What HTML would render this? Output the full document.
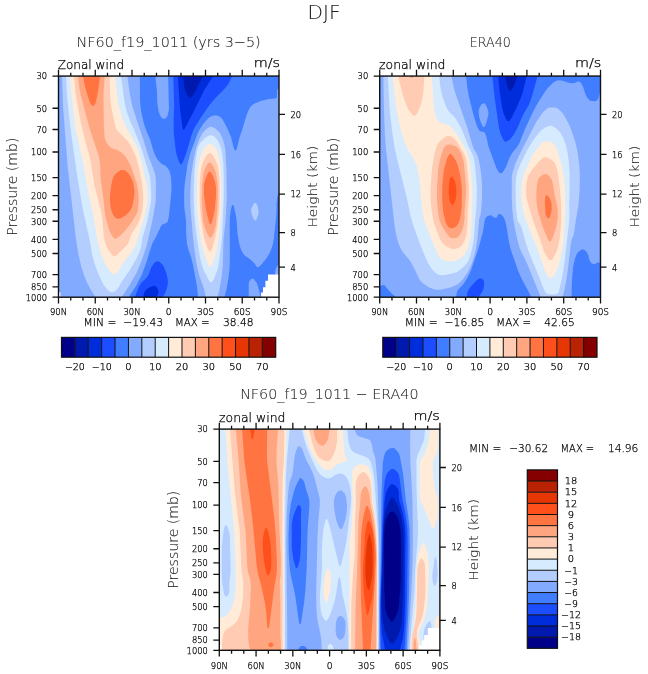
<!DOCTYPE html>
<html><head><meta charset="utf-8"><title>DJF zonal wind</title>
<style>text{stroke:#000;stroke-width:0.25px}text.big{stroke:#222;stroke-width:0.1px;fill:#222}html,body{margin:0;padding:0;background:#fff;width:648px;height:674px;overflow:hidden}</style>
</head><body>
<svg width="648" height="674" viewBox="0 0 648 674" font-family='"DejaVu Sans", "Liberation Sans", sans-serif' font-weight="200" style="display:block"><rect width="648" height="674" fill="#fff"/>
<rect x="58.5" y="76.05" width="220.50" height="221.15" fill="#000088"/>
<path fill="#0019af" stroke="none" fill-rule="evenodd" d="M58.5,76.0 279.0,76.0 279.0,297.1 58.5,297.1Z"/>
<path fill="#002ddc" stroke="none" fill-rule="evenodd" d="M58.5,76.0 183.0,76.0 184.5,87.8 185.5,91.6 187.6,95.5 189.5,97.4 190.5,97.7 192.4,96.0 196.0,90.1 202.8,76.1 279.0,76.0 279.0,297.1 58.5,297.1Z"/>
<path fill="#1c4eff" stroke="none" fill-rule="evenodd" d="M58.5,76.0 177.9,76.0 180.0,109.0 182.6,128.6 183.1,129.6 183.5,129.7 184.4,129.1 185.3,127.6 194.5,110.0 204.0,90.6 213.1,76.0 279.0,76.0 279.0,297.1 156.5,297.1 158.0,294.0 158.5,292.1 158.4,291.1 158.0,289.4 156.9,287.6 155.5,286.2 154.0,285.8 152.0,286.2 150.5,286.9 147.0,289.0 145.3,290.6 144.0,292.9 143.3,297.1 58.5,297.1Z"/>
<path fill="#417dff" stroke="none" fill-rule="evenodd" d="M58.5,76.0 173.3,76.0 174.2,106.0 173.6,119.6 173.8,133.6 175.7,150.1 176.7,155.1 179.1,162.1 180.0,163.6 181.0,164.2 181.7,164.1 182.1,163.6 183.3,161.1 186.0,153.9 191.7,134.6 193.2,130.6 195.3,126.5 202.0,115.8 209.5,105.0 215.0,98.5 224.3,89.0 227.7,85.0 229.8,81.5 232.0,76.1 279.0,76.0 279.0,297.1 162.5,297.1 164.9,293.6 166.7,289.1 167.8,284.1 167.8,279.6 166.3,273.1 163.7,266.6 162.4,264.6 160.0,262.2 158.9,261.6 157.5,261.4 155.5,261.8 153.5,264.1 151.0,267.9 148.9,274.1 147.6,276.6 145.9,278.6 141.5,282.5 139.5,285.6 134.8,297.1 58.5,297.1Z"/>
<path fill="#82aaff" stroke="none" fill-rule="evenodd" d="M58.5,76.0 139.9,76.0 140.0,99.5 140.5,106.5 141.5,113.1 143.5,122.1 146.0,130.1 149.9,139.1 154.0,152.6 156.0,157.1 157.5,159.6 160.1,162.6 162.0,164.1 164.9,165.6 166.7,167.1 168.3,169.1 169.6,171.6 170.7,175.6 171.2,179.6 171.5,186.1 171.3,193.1 169.0,215.6 167.9,221.1 167.4,222.1 166.3,223.0 162.4,224.6 161.4,225.6 160.6,227.1 156.2,236.6 152.5,243.1 149.5,252.0 149.4,253.1 149.0,253.6 146.9,261.1 141.7,275.1 136.0,286.1 128.8,297.1 58.5,297.1ZM155.3,76.0 168.1,76.0 169.0,109.5 167.5,116.0 165.6,118.5 163.5,118.7 162.7,118.5 162.0,118.0 160.3,116.0 158.7,112.0 157.3,103.0 157.0,91.5ZM277.5,89.5 279.0,88.3 279.0,194.3 278.0,195.1 278.0,195.6 277.5,196.1 277.5,197.1 277.1,197.6 277.0,200.6 276.6,202.6 276.5,212.3 276.0,218.8 275.6,221.1 275.5,224.3 275.1,226.1 275.0,229.6 274.6,230.6 274.0,237.6 273.0,243.4 271.0,249.9 269.0,254.3 266.0,259.1 260.5,265.6 258.9,267.1 258.0,267.3 257.0,267.1 256.5,266.6 254.5,263.5 250.5,259.5 244.1,255.1 241.5,250.7 239.5,245.1 237.5,233.5 236.8,222.6 235.8,215.1 233.9,206.6 233.0,205.1 232.1,205.1 230.7,210.6 229.7,219.1 229.9,259.1 229.4,270.6 228.4,278.6 226.8,288.1 224.5,297.1 198.1,297.1 197.0,286.5 193.0,265.0 191.0,257.0 188.7,250.6 187.1,244.6 186.2,234.6 186.0,220.5 184.3,207.6 184.1,201.1 184.2,191.6 184.7,184.1 187.5,164.5 190.0,154.3 197.2,134.6 199.7,129.6 203.5,123.5 208.0,118.5 210.0,117.0 212.5,115.8 215.5,115.3 218.0,115.7 220.5,117.3 222.7,119.5 228.1,130.1 231.0,137.1 234.1,149.1 234.6,150.1 235.5,150.5 236.5,149.6 237.0,148.1 239.5,137.5 241.8,131.1 246.6,115.0 249.2,109.0 250.7,106.5 252.5,104.8 255.0,103.3 261.5,100.8 268.0,99.2 271.5,98.7 275.5,98.6 276.5,98.1 277.0,97.0 277.1,90.5ZM277.0,266.6 279.0,264.8 279.0,278.3 278.0,278.0 275.6,275.6 275.1,273.6 275.1,272.1 276.0,268.6ZM251.3,279.1 252.5,278.8 254.0,279.2 256.8,283.1 258.2,287.1 260.6,297.1 248.7,297.1 248.7,283.6 249.2,281.6 250.1,280.1Z"/>
<path fill="#b4cdff" stroke="none" fill-rule="evenodd" d="M62.0,76.0 127.3,76.0 130.0,95.5 133.0,108.4 136.7,120.0 143.2,139.1 148.5,156.6 152.3,166.1 154.8,173.1 155.4,175.6 155.9,180.6 155.8,201.1 152.3,221.1 146.6,246.1 141.5,261.0 136.5,273.0 129.0,286.1 121.8,297.1 95.5,297.1 90.7,289.6 87.2,283.1 84.1,275.6 81.1,266.1 78.2,253.1 75.7,237.1 67.7,167.1 63.2,108.5ZM209.6,127.0 211.0,126.8 212.6,127.0 215.3,128.6 219.5,132.4 221.7,136.6 223.7,142.1 224.8,146.6 225.5,151.1 225.5,155.1 225.9,157.6 226.0,164.6 226.4,167.0 226.8,199.6 225.3,223.6 223.5,239.1 222.8,265.1 221.9,274.6 220.5,283.9 219.0,291.6 217.5,297.1 206.0,297.1 203.8,288.6 199.0,274.4 196.5,263.6 194.2,248.1 192.7,234.6 190.3,204.6 190.3,192.1 191.2,175.6 193.2,161.6 195.7,149.1 199.0,139.7 202.5,133.1 206.3,129.1ZM254.5,203.1 255.5,202.9 256.4,203.6 257.9,207.1 258.5,210.6 258.4,213.6 257.8,216.1 256.4,220.1 255.5,220.8 254.1,219.6 252.8,217.1 251.2,212.6 251.1,211.1 251.3,209.1 252.2,206.6 253.6,204.1Z"/>
<path fill="#d7ebff" stroke="none" fill-rule="evenodd" d="M66.1,76.0 121.0,76.0 124.6,102.5 126.5,110.7 129.5,119.5 134.0,129.6 141.4,148.1 149.8,176.1 150.4,181.1 151.3,195.1 150.8,203.6 147.2,221.6 142.5,237.6 141.1,247.1 140.5,249.5 136.5,258.4 129.5,270.5 121.8,281.6 117.9,288.6 115.3,291.0 113.5,292.1 111.5,292.2 109.5,291.4 106.4,288.6 103.4,284.6 101.0,279.8 97.2,271.1 94.3,262.6 92.6,256.6 89.5,239.6 82.7,208.6 77.7,179.1 71.2,133.6 69.3,118.0 66.8,93.5ZM208.7,135.6 211.0,135.3 212.7,135.6 214.9,137.1 217.5,140.0 220.0,145.0 221.5,150.1 222.5,156.1 223.3,163.6 223.7,174.6 223.7,199.1 222.0,237.4 221.5,242.6 219.0,262.2 217.5,269.6 213.7,279.6 212.5,281.6 212.0,282.0 211.0,282.3 210.0,282.1 209.2,281.1 204.5,272.1 202.0,265.6 200.5,259.8 198.4,248.1 195.5,227.6 194.3,213.6 193.7,200.6 193.7,189.1 194.4,172.1 195.5,161.0 197.0,151.5 198.0,147.6 199.0,145.1 200.5,142.5 205.0,138.1Z"/>
<path fill="#ffebd7" stroke="none" fill-rule="evenodd" d="M69.9,76.0 115.1,76.0 118.0,102.5 120.3,112.0 123.2,120.5 126.6,128.6 133.5,140.0 138.0,149.0 140.0,155.6 142.9,167.1 144.5,175.3 146.6,184.1 147.5,192.6 147.5,199.6 147.0,204.6 144.8,215.6 136.0,243.9 134.5,247.4 130.5,253.5 122.3,264.1 118.7,271.1 116.0,273.4 114.0,274.2 112.5,273.9 110.1,271.6 107.0,267.1 105.1,263.6 101.0,253.6 98.2,243.0 96.7,236.1 93.0,213.8 87.2,187.1 82.4,159.6 75.5,128.1 71.2,93.5ZM209.1,144.1 210.5,143.9 212.0,144.4 215.0,147.0 217.0,150.5 218.5,155.1 219.7,161.1 220.7,170.1 221.4,187.6 221.3,199.0 220.8,212.6 219.5,231.1 218.5,240.1 216.5,251.1 214.5,257.9 211.8,265.1 211.2,266.1 210.0,266.7 209.0,266.1 208.1,264.6 206.5,260.3 203.0,249.8 200.7,240.1 199.4,231.6 197.8,215.6 196.8,198.1 197.4,174.1 198.0,168.1 199.3,161.1 201.0,155.0 203.6,149.1 206.0,146.1Z"/>
<path fill="#ffcbb2" stroke="none" fill-rule="evenodd" d="M74.0,76.0 109.6,76.0 110.0,91.5 110.7,103.0 112.1,111.5 115.3,126.0 116.6,129.6 117.6,131.1 127.5,141.0 130.5,145.5 135.0,154.6 137.0,160.4 139.0,168.4 142.0,183.6 143.2,195.1 143.0,204.7 142.0,211.6 141.0,215.6 139.5,220.1 137.0,225.6 131.3,234.1 128.5,242.6 127.5,244.6 116.8,255.1 115.0,256.2 114.0,256.2 112.6,255.6 111.2,254.1 109.1,251.1 106.5,246.4 104.5,240.2 103.5,233.6 102.5,220.2 101.5,213.7 99.5,204.5 94.7,187.1 90.3,159.6 83.0,132.1 80.5,120.9 75.6,93.5ZM208.5,153.6 210.0,153.3 211.0,153.6 212.5,155.1 215.0,159.0 217.5,164.9 218.5,170.0 219.5,178.6 219.8,189.6 219.3,210.1 217.3,226.6 215.2,237.1 212.5,247.6 211.1,251.1 210.7,251.6 210.0,251.8 208.6,250.6 207.2,247.6 204.5,239.6 203.5,235.6 200.7,216.1 199.6,200.1 200.0,178.6 201.0,168.9 202.0,164.6 203.0,162.0 206.0,156.6Z"/>
<path fill="#ffa580" stroke="none" fill-rule="evenodd" d="M78.0,76.0 104.8,76.0 103.7,89.0 103.4,97.5 103.8,124.1 104.5,136.4 105.0,138.9 106.0,141.6 107.5,144.1 109.7,146.6 112.5,148.6 117.2,150.1 120.8,152.1 124.0,154.9 126.5,158.0 129.0,162.5 131.5,168.0 134.2,175.6 137.3,185.6 138.4,193.1 138.7,200.1 138.0,208.8 137.5,211.6 136.5,214.6 130.0,224.6 126.0,229.6 120.8,235.1 116.5,238.4 115.5,238.7 114.0,238.3 113.2,237.6 110.5,232.9 109.0,229.2 105.5,217.1 104.6,211.1 103.8,202.1 101.0,181.4 100.5,175.6 100.2,165.6 99.4,158.6 98.3,154.6 89.5,128.0 81.0,96.4 79.5,89.0ZM209.2,162.6 210.4,162.6 211.9,164.1 213.5,166.8 215.5,171.5 217.0,178.7 217.9,190.6 217.5,205.9 216.0,224.6 214.5,230.6 213.0,234.6 211.6,237.1 210.5,237.8 209.2,237.1 207.4,234.1 204.5,227.1 203.5,223.1 202.5,214.8 201.8,200.1 202.0,186.6 203.3,174.6 204.5,170.1 206.0,166.8 207.6,164.1Z"/>
<path fill="#ff7440" stroke="none" fill-rule="evenodd" d="M82.9,76.0 100.0,76.0 98.5,88.6 97.0,97.1 95.4,103.5 94.0,105.5 93.0,105.8 91.9,105.5 90.7,104.0 89.5,101.5 85.5,88.6ZM120.9,170.1 123.9,170.1 125.8,171.1 128.5,173.5 130.5,176.5 132.5,180.5 133.5,183.5 134.5,191.6 134.0,197.6 133.0,203.1 132.0,207.1 130.9,209.6 128.5,212.8 125.4,215.6 121.0,218.3 118.5,218.8 116.6,218.6 115.2,217.6 113.6,215.6 112.0,212.4 110.5,206.7 110.0,202.2 110.0,195.5 111.0,186.8 112.0,181.5 113.0,178.0 114.0,176.0 115.5,174.0 118.5,171.4ZM209.0,172.1 210.0,171.8 210.6,172.1 211.4,173.1 213.0,176.1 215.0,181.5 216.0,187.6 216.0,196.6 214.5,211.7 212.2,221.1 211.4,223.6 210.5,224.3 209.7,224.1 209.3,223.1 207.0,214.6 205.5,206.6 204.0,194.6 204.0,184.6 204.5,181.9 206.5,176.1 208.1,173.1Z"/>
<path fill="#fff" d="M268.0,274.6 280.0,274.6 280.0,298.0 261.1,298.0 261.1,292.5 263.0,292.5 263.0,287.2 265.4,287.2 265.4,280.8 268.0,280.8Z"/>
<path fill="#fff" d="M58.0,292.3 60.4,292.3 60.4,298.0 58.0,298.0Z"/>
<rect x="379.7" y="76.05" width="220.80" height="221.15" fill="#000088"/>
<path fill="#0019af" stroke="none" fill-rule="evenodd" d="M379.7,76.0 600.2,76.0 600.2,297.1 379.7,297.1Z"/>
<path fill="#002ddc" stroke="none" fill-rule="evenodd" d="M379.7,76.0 505.1,76.0 506.6,83.5 507.9,87.5 508.9,90.0 510.2,91.1 511.6,90.0 514.1,85.5 517.4,76.0 600.2,76.0 600.2,297.1 379.7,297.1Z"/>
<path fill="#1c4eff" stroke="none" fill-rule="evenodd" d="M379.7,76.0 498.1,76.0 499.7,91.5 502.2,108.1 503.7,113.7 505.5,118.0 507.4,121.0 508.2,121.3 509.2,121.0 509.7,120.6 511.5,118.0 516.2,108.6 521.2,97.1 522.7,92.5 526.7,76.0 600.2,76.0 600.2,297.1 379.7,297.1Z"/>
<path fill="#417dff" stroke="none" fill-rule="evenodd" d="M379.7,76.0 492.3,76.0 494.9,99.5 498.9,127.6 500.5,133.6 502.4,138.1 503.8,140.6 504.7,141.4 505.7,141.8 507.2,141.3 509.9,139.6 513.7,134.7 518.2,126.6 519.9,122.0 523.5,114.0 528.6,105.5 532.2,95.5 537.6,76.0 600.2,76.0 600.2,297.1 478.6,297.1 482.4,291.6 483.6,288.6 484.1,285.6 484.1,282.6 483.6,280.6 481.7,278.6 480.2,278.4 478.7,278.7 476.7,280.3 472.2,284.9 469.7,288.1 467.2,292.6 467.0,297.1 379.7,297.1Z"/>
<path fill="#82aaff" stroke="none" fill-rule="evenodd" d="M379.7,76.0 466.1,76.0 467.2,86.8 468.7,95.6 473.0,113.1 475.9,123.0 477.4,127.0 479.3,130.6 481.0,131.6 484.1,132.1 485.3,133.6 486.7,138.1 488.2,145.2 489.2,148.4 496.4,168.1 498.3,171.6 499.7,173.1 500.7,173.3 502.0,173.1 503.9,170.6 505.7,167.5 509.0,159.1 511.0,155.1 512.8,152.1 516.7,147.6 519.2,143.6 525.0,129.1 532.7,112.6 537.2,104.0 545.7,90.5 548.7,86.9 552.8,83.0 556.2,80.7 559.2,80.3 562.7,80.7 569.2,82.9 572.2,83.3 574.7,83.0 577.7,81.6 579.7,81.7 581.1,83.0 583.2,87.2 585.8,95.0 586.8,97.1 589.2,99.9 591.2,101.0 595.2,101.2 596.9,100.5 597.4,100.1 598.7,97.6 599.3,94.5 599.7,94.1 599.8,92.0 600.2,91.6 600.2,263.5 599.0,262.6 598.2,262.3 597.3,262.6 595.1,264.1 594.2,264.3 591.7,263.4 589.8,261.1 588.1,255.1 587.0,252.6 585.2,250.6 583.7,249.7 582.2,249.3 580.7,249.9 578.3,252.1 576.7,254.3 575.2,257.9 573.2,266.5 572.2,277.2 571.7,287.0 571.6,297.1 531.3,297.1 521.3,278.1 518.4,271.6 510.4,248.6 508.9,241.6 506.7,227.6 505.2,221.0 503.2,216.6 501.1,214.6 499.7,213.9 498.8,214.1 498.3,214.6 496.9,217.6 495.7,217.8 494.0,217.6 491.6,215.6 490.2,215.3 487.8,216.1 485.8,217.6 484.7,220.5 483.1,231.1 479.6,244.6 479.2,245.0 478.6,248.1 477.7,250.1 477.7,251.1 475.2,257.8 475.2,258.6 474.7,259.0 474.7,260.1 474.2,260.5 474.2,261.6 473.7,262.0 473.6,263.1 473.2,263.5 473.1,264.6 472.7,265.0 472.6,266.1 472.2,266.5 471.2,270.1 470.7,270.5 470.1,272.6 467.6,277.6 464.5,282.6 462.6,285.1 457.9,290.1 457.3,291.1 456.8,292.6 456.2,297.1 395.4,297.1 389.2,291.1 384.2,285.1 382.7,284.9 379.7,286.3ZM481.9,104.0 483.7,103.3 484.7,103.5 485.6,104.5 487.5,108.6 488.5,113.0 488.1,116.1 486.0,123.6 485.0,126.1 484.2,127.0 483.7,127.0 482.5,126.1 480.7,122.0 479.2,116.9 478.7,113.0 478.7,110.5 479.4,108.0 480.8,105.5Z"/>
<path fill="#b4cdff" stroke="none" fill-rule="evenodd" d="M383.3,76.0 451.3,76.0 453.7,87.1 455.4,93.5 467.5,128.1 472.2,144.6 473.7,148.6 476.6,153.6 478.1,157.1 480.0,165.6 481.5,177.6 482.1,185.6 482.1,197.5 481.0,211.6 480.6,214.6 479.2,219.1 477.6,238.1 475.7,249.4 474.2,256.1 471.7,264.0 469.2,269.6 466.7,274.1 463.2,279.1 458.2,284.0 454.4,286.1 450.4,287.6 441.1,289.6 438.2,289.7 434.7,289.5 431.2,288.3 428.2,286.9 422.7,283.3 419.5,279.6 414.7,269.2 410.2,261.1 404.0,253.6 401.5,250.1 399.3,245.6 397.9,241.6 395.9,234.0 394.4,224.6 385.9,148.6 384.9,134.1 384.0,111.5ZM549.2,107.6 555.6,107.5 557.2,108.2 558.7,109.3 561.6,112.1 563.6,114.5 567.8,122.0 571.5,130.6 576.0,144.6 578.0,154.6 579.5,167.6 579.9,177.6 579.6,190.1 578.5,205.1 575.7,221.0 574.1,233.1 573.5,235.6 571.7,239.5 570.7,244.6 567.9,269.6 566.4,280.1 563.9,292.6 562.4,297.1 540.6,297.1 527.7,265.1 524.7,258.4 521.4,252.1 519.5,247.6 517.5,240.6 514.9,228.6 513.4,219.6 512.3,209.6 511.8,198.6 511.8,178.0 512.3,173.6 515.4,163.6 519.5,154.6 536.2,122.0 541.7,114.0 544.2,111.0 547.1,108.5Z"/>
<path fill="#d7ebff" stroke="none" fill-rule="evenodd" d="M387.8,76.0 439.2,76.0 440.2,85.8 441.2,92.0 442.7,97.6 445.2,104.5 447.1,108.5 448.9,111.5 455.2,118.1 459.7,125.2 462.2,130.6 468.1,145.6 472.1,153.6 473.5,157.1 474.2,160.1 475.0,165.6 476.6,183.1 477.0,192.1 476.3,208.1 475.2,219.1 474.1,236.1 473.3,242.6 470.7,254.8 468.2,261.1 466.2,264.1 461.2,269.1 457.7,271.6 454.3,273.1 445.2,274.9 442.2,275.3 440.3,275.1 438.2,274.4 435.8,273.1 432.2,269.6 428.2,263.6 425.9,258.6 420.4,245.1 413.5,226.1 410.4,215.6 406.7,197.4 396.7,157.3 394.2,145.2 391.7,128.1 389.7,109.3ZM548.7,126.1 550.2,125.8 552.7,126.2 556.4,128.6 560.2,132.5 563.2,138.1 565.7,144.5 567.5,152.6 569.0,163.6 569.6,174.1 569.7,187.6 569.2,203.1 569.5,218.1 564.2,264.6 562.2,277.0 558.7,292.1 558.2,293.1 556.8,294.1 552.7,294.8 549.2,294.3 546.8,293.6 545.7,292.6 544.7,291.1 542.2,285.6 540.0,279.1 529.2,252.9 526.2,244.3 521.5,227.6 520.3,224.6 518.2,221.8 517.2,218.6 516.2,210.1 515.7,200.5 515.6,185.6 516.2,177.1 517.7,170.8 520.7,163.6 526.7,151.2 531.7,142.6 534.8,138.1 539.2,132.6 542.3,129.6 545.7,127.2Z"/>
<path fill="#ffebd7" stroke="none" fill-rule="evenodd" d="M392.4,76.0 431.8,76.0 433.9,108.5 434.5,112.5 436.0,117.0 437.8,120.0 440.2,122.4 442.2,123.3 449.2,125.5 452.2,128.1 456.7,134.0 463.1,144.6 466.5,151.1 468.5,155.6 469.5,159.6 470.5,165.6 472.4,189.1 472.4,195.6 471.7,212.1 471.7,222.3 470.7,236.6 469.2,244.1 467.2,249.6 465.7,252.6 463.7,255.6 462.2,257.1 458.6,259.6 456.4,260.6 454.6,261.1 451.2,261.3 446.7,260.9 442.2,259.6 440.2,258.1 438.8,256.1 437.2,253.1 432.9,243.1 424.4,221.1 422.4,211.6 420.9,197.1 419.7,181.1 417.7,169.3 416.7,165.6 414.6,160.6 408.2,150.1 406.2,146.1 404.2,141.1 401.7,133.6 399.2,123.6 396.7,110.1 395.2,99.8ZM544.4,141.6 547.2,141.3 550.0,141.6 552.0,142.6 554.6,145.1 557.2,149.9 560.2,159.6 562.9,171.6 564.4,181.1 565.1,190.6 565.2,208.6 564.4,229.1 563.7,239.1 562.2,249.7 560.2,259.2 557.7,268.1 556.2,271.6 553.6,276.1 551.7,278.0 550.7,278.3 549.5,278.1 548.5,277.1 544.7,270.3 541.6,260.6 536.7,247.0 526.0,220.6 523.8,213.6 522.2,207.3 521.1,197.6 521.2,190.1 521.9,182.6 522.9,177.1 524.5,172.1 532.7,154.5 538.5,147.1 540.6,143.6 541.9,142.6Z"/>
<path fill="#ffcbb2" stroke="none" fill-rule="evenodd" d="M398.2,76.0 424.4,76.0 423.2,93.3 422.2,99.2 420.7,104.7 418.0,111.5 416.7,114.1 415.2,115.5 414.2,115.7 413.2,115.4 411.3,113.5 409.0,110.5 406.7,106.2 402.2,93.1ZM446.8,136.1 450.2,136.1 452.7,137.5 454.6,139.1 456.7,141.6 462.9,151.6 464.9,155.6 466.0,159.1 466.8,163.1 468.8,185.6 468.9,195.6 467.7,212.8 467.3,226.6 466.2,235.3 464.2,241.2 462.7,244.1 461.1,246.1 458.2,248.1 454.2,249.3 450.7,248.4 445.1,245.6 442.7,243.6 440.2,239.6 435.0,226.1 433.4,221.1 431.9,212.6 430.9,202.1 430.6,191.6 431.4,176.1 432.4,166.1 434.9,152.1 436.3,147.1 438.8,142.6 443.2,138.2ZM543.5,157.6 545.7,157.3 547.4,157.6 550.4,159.1 552.3,160.6 554.7,163.0 556.2,166.0 557.2,169.8 559.2,182.2 560.7,198.8 561.2,208.1 561.2,220.1 560.7,229.3 559.7,238.1 558.2,246.1 556.2,252.5 552.6,259.1 551.6,260.1 550.7,260.3 549.3,260.1 548.4,259.1 546.2,255.6 543.7,250.6 541.0,242.1 532.7,219.3 527.2,200.5 526.2,195.1 526.2,186.6 526.7,182.2 527.7,177.6 528.7,175.1 531.2,171.0 537.7,163.1 540.0,160.6Z"/>
<path fill="#ffa580" stroke="none" fill-rule="evenodd" d="M409.4,76.0 409.7,76.0 414.1,76.0 412.7,78.1 411.7,78.3 410.9,78.0ZM448.5,144.6 450.5,144.6 456.3,146.6 458.7,149.0 461.2,153.6 462.7,157.5 463.7,161.8 465.7,182.1 466.0,189.1 465.9,195.6 464.5,212.0 464.6,218.1 463.7,225.2 462.2,230.6 459.5,235.6 457.4,237.6 456.1,238.1 453.7,238.3 450.8,238.1 449.5,237.1 445.2,231.6 441.3,225.1 439.6,220.6 438.6,216.1 437.3,204.6 436.9,194.6 437.0,188.6 438.1,171.6 439.2,163.1 441.2,155.1 443.7,148.3 445.2,146.1 446.8,145.1ZM542.7,174.7 545.2,173.9 546.7,174.3 548.6,175.6 551.1,178.6 552.2,181.1 553.2,185.6 554.4,194.1 556.7,203.7 557.7,209.6 557.7,217.9 556.2,227.1 552.5,238.1 551.0,241.1 550.2,241.5 548.8,241.1 547.9,239.6 543.2,228.2 537.9,211.1 536.5,202.1 536.3,195.6 536.7,186.6 537.7,180.9 538.7,178.6 540.3,176.6Z"/>
<path fill="#ff7440" stroke="none" fill-rule="evenodd" d="M448.4,155.6 450.2,153.8 451.5,154.6 454.0,157.6 456.2,161.3 457.7,165.2 459.7,173.0 460.7,178.5 461.7,186.1 462.0,192.1 461.7,206.8 460.7,215.1 459.7,220.1 458.2,223.8 456.5,226.1 454.0,228.1 451.7,228.3 449.7,228.1 448.3,227.1 446.7,224.6 445.2,220.8 443.2,212.1 442.2,200.1 442.3,186.1 443.2,175.6 444.2,168.6 446.7,159.5ZM545.8,195.6 546.7,195.3 547.6,195.6 549.5,198.1 550.9,201.1 551.5,204.1 551.7,209.1 551.3,212.6 549.6,218.0 548.7,218.3 547.7,218.1 546.9,217.1 546.0,215.6 545.5,213.6 544.8,201.6 545.3,197.1Z"/>
<path fill="#ff501c" stroke="none" fill-rule="evenodd" d="M450.7,177.1 451.2,176.8 452.1,177.1 454.4,180.1 455.5,183.1 456.2,188.1 456.4,193.6 455.8,198.6 454.1,204.1 453.7,204.6 452.7,204.8 451.7,204.6 451.2,204.1 450.0,202.1 449.3,199.1 448.7,193.1 448.7,187.6 449.1,183.6 449.9,178.6Z"/>
<rect x="219.3" y="429.1" width="220.60" height="221.20" fill="#000088"/>
<path fill="#0019af" stroke="none" fill-rule="evenodd" d="M219.3,429.1 439.8,429.1 439.8,650.1 219.3,650.1ZM391.3,511.6 390.0,512.6 387.8,515.6 386.3,518.6 385.3,522.1 385.2,524.6 384.8,525.6 384.7,530.6 384.3,531.6 384.1,549.1 384.3,588.4 385.3,608.2 385.8,611.1 387.8,616.6 390.0,620.6 390.9,621.6 391.8,621.8 392.7,621.6 393.6,620.6 395.8,616.6 397.8,611.1 398.8,606.2 400.3,588.1 400.8,575.4 400.9,545.6 400.8,536.1 400.3,530.1 399.3,523.5 398.3,519.2 396.8,515.7 394.5,512.6 393.3,511.6 392.3,511.4Z"/>
<path fill="#002ddc" stroke="none" fill-rule="evenodd" d="M219.3,429.1 439.8,429.1 439.8,650.1 219.3,650.1ZM392.9,497.6 391.4,497.6 390.4,499.1 387.3,506.1 385.3,513.1 384.3,519.6 383.2,535.6 382.6,570.1 381.3,600.6 382.3,617.4 383.8,626.7 385.3,632.1 387.8,638.6 390.5,643.1 391.8,643.8 393.3,643.1 394.7,641.6 397.3,637.2 399.8,631.5 401.3,624.8 401.8,619.8 403.3,583.6 403.7,545.6 403.4,535.1 402.8,527.1 400.8,515.1 398.3,507.1 396.3,502.6 393.5,498.1Z"/>
<path fill="#1c4eff" stroke="none" fill-rule="evenodd" d="M219.3,429.1 439.8,429.1 439.8,650.1 399.9,650.1 402.8,638.6 403.8,630.1 404.3,622.5 405.0,599.6 405.1,563.1 405.5,534.6 404.9,526.1 403.6,517.6 401.9,509.6 399.3,501.1 398.9,497.1 398.8,491.0 397.8,488.5 396.4,486.6 394.3,484.9 392.3,484.1 391.3,484.3 390.3,485.1 387.8,488.6 386.3,492.1 385.3,496.1 384.3,504.6 382.9,528.1 380.8,600.1 380.8,617.7 381.8,632.3 385.1,650.1 219.3,650.1Z"/>
<path fill="#417dff" stroke="none" fill-rule="evenodd" d="M219.3,429.1 439.8,429.1 439.8,650.1 404.4,650.1 406.2,620.1 407.0,599.1 407.7,545.6 407.4,530.1 406.2,519.1 404.7,510.1 402.6,501.1 399.3,476.6 398.8,474.5 397.3,472.1 394.3,469.3 392.8,468.9 391.4,469.1 389.5,470.6 387.8,472.6 386.3,475.1 384.8,480.5 383.8,489.4 382.1,527.1 381.3,569.9 380.1,605.6 380.3,633.6 381.1,650.1 219.3,650.1ZM298.8,504.9 297.4,506.1 293.8,514.4 292.3,520.4 291.8,524.8 291.8,548.6 293.3,558.9 295.5,567.1 295.9,568.1 296.3,568.2 297.2,568.1 298.0,566.6 299.5,561.6 300.2,556.6 300.8,546.3 301.1,533.6 300.9,519.1 301.2,509.6 301.0,508.1 300.2,506.1Z"/>
<path fill="#82aaff" stroke="none" fill-rule="evenodd" d="M219.3,429.1 439.8,429.1 439.8,650.1 406.5,650.1 408.3,613.1 409.0,592.1 409.8,545.6 409.5,528.1 408.1,515.1 405.8,500.1 403.1,474.1 400.3,458.4 399.3,454.5 398.3,452.4 394.7,448.6 393.7,448.1 392.3,447.9 390.3,448.3 388.3,449.4 386.4,451.1 385.3,452.6 383.8,457.0 382.8,463.1 381.5,493.1 380.8,558.8 379.6,600.6 379.7,650.1 308.0,650.1 305.3,646.7 304.2,646.1 302.8,645.9 301.0,646.1 300.4,646.6 299.4,647.6 298.2,650.1 219.3,650.1ZM300.8,477.9 300.3,478.1 299.4,479.1 295.8,486.1 293.8,492.1 290.8,504.1 289.3,515.7 288.5,536.1 288.8,554.7 289.8,569.1 291.3,578.1 295.0,594.1 298.9,621.6 299.4,624.1 299.8,624.2 300.8,623.6 301.6,619.1 304.1,602.6 305.4,590.1 306.7,567.1 307.6,530.1 309.5,505.1 309.3,501.1 308.8,498.1 305.8,488.6 304.5,483.1 303.1,480.1Z"/>
<path fill="#b4cdff" stroke="none" fill-rule="evenodd" d="M219.3,429.1 354.3,429.1 355.2,430.6 356.3,433.8 358.2,436.1 360.7,437.1 363.8,437.8 368.3,439.3 369.6,440.1 370.5,441.1 372.1,445.1 372.9,451.1 374.9,456.6 375.5,459.6 377.6,484.6 379.2,545.1 378.9,650.1 321.8,650.1 321.3,640.6 320.8,636.1 317.6,620.6 317.0,616.1 316.4,608.1 316.1,594.1 317.5,537.1 318.5,519.1 319.8,505.1 319.8,498.6 314.7,478.6 312.8,473.1 310.3,467.6 306.0,459.6 302.2,449.1 300.7,447.1 300.2,446.6 299.3,446.4 298.1,446.6 297.4,447.6 296.0,451.1 294.8,455.8 292.6,473.1 291.7,476.6 290.3,479.4 289.3,483.7 288.3,492.0 287.3,505.2 286.8,514.6 286.3,543.6 287.2,624.6 287.2,650.1 219.3,650.1ZM341.2,490.6 338.8,490.8 337.4,492.1 335.4,495.1 334.1,499.6 333.8,504.1 334.5,511.1 336.3,520.6 338.6,526.6 339.4,528.1 340.8,529.3 341.7,529.1 342.6,527.6 345.3,519.7 346.8,511.3 347.0,505.6 346.3,499.1 345.8,496.5 344.8,493.6 342.8,491.4ZM339.8,616.0 338.2,617.1 337.4,618.1 336.6,620.1 335.9,623.6 335.6,631.1 336.0,634.6 336.9,637.1 338.8,639.6 340.3,639.8 341.6,639.6 342.2,639.1 343.6,637.6 344.4,636.1 345.3,632.0 345.6,624.1 345.3,621.0 343.7,618.1 341.6,616.1ZM410.3,429.1 439.8,429.1 439.8,650.1 408.0,650.1 411.6,585.1 412.5,562.6 412.9,540.6 412.5,501.1 410.4,462.6 410.1,447.6Z"/>
<path fill="#d7ebff" stroke="none" fill-rule="evenodd" d="M219.3,429.1 289.7,429.1 286.8,460.1 285.8,481.1 284.9,538.1 285.1,650.1 219.3,650.1ZM225.8,525.0 224.9,525.6 224.0,528.6 223.0,535.1 221.8,546.6 221.7,576.1 222.3,583.6 224.0,593.6 224.8,596.1 225.3,596.6 226.3,596.8 227.3,596.2 228.2,595.1 229.3,592.1 229.5,581.6 230.3,575.1 230.7,567.6 229.8,537.1 229.5,533.6 228.9,531.1 227.7,527.6 226.6,525.6ZM301.8,429.1 347.2,429.1 348.3,441.1 349.8,446.8 351.3,450.1 354.1,452.6 359.0,454.6 363.8,456.1 367.7,458.1 369.3,459.6 370.8,462.5 371.8,465.5 373.4,473.1 374.5,481.1 378.0,532.6 378.4,566.6 378.2,650.1 348.4,650.1 348.3,631.3 347.3,617.6 345.8,609.1 342.5,594.1 340.2,578.1 339.3,577.1 338.8,577.6 338.4,579.1 335.7,596.1 334.4,602.1 330.7,613.6 328.0,619.1 326.8,620.6 325.3,620.6 324.3,619.6 322.8,617.2 321.8,614.7 320.8,610.2 320.3,606.2 319.9,595.6 322.0,567.6 321.8,552.1 322.3,540.4 323.3,530.7 324.6,524.1 325.9,519.6 326.3,519.2 327.1,519.1 328.1,521.1 330.6,530.1 338.5,563.6 338.9,565.1 339.8,566.1 340.3,566.1 341.2,564.6 342.1,561.1 344.8,549.6 346.8,538.9 350.8,505.6 351.2,498.1 350.8,491.1 350.4,490.1 350.3,487.6 349.9,486.6 349.8,485.1 349.4,484.6 349.3,483.6 347.8,479.6 345.5,476.1 343.0,474.1 340.8,473.4 338.4,473.6 334.8,475.3 330.8,477.9 327.8,478.3 325.3,477.8 322.9,476.6 320.8,475.1 318.3,472.1 316.3,468.7 311.6,459.1 305.9,445.1 303.5,436.6ZM425.0,429.1 439.8,429.1 439.8,650.1 409.8,650.1 410.5,636.6 414.3,592.6 415.1,571.6 417.6,540.6 418.1,530.1 416.5,487.6 416.4,461.6 416.9,457.6 417.7,455.1 423.8,440.7 424.3,438.6ZM429.3,621.4 427.9,622.6 426.4,624.6 424.3,629.1 423.4,635.6 423.5,638.6 423.9,639.6 425.6,639.6 426.7,638.6 429.1,635.6 430.6,632.6 431.5,628.6 431.4,625.1 430.6,622.1 430.3,621.6ZM435.3,556.9 434.9,557.1 434.5,559.1 432.3,575.1 432.7,582.1 433.9,585.1 434.8,585.8 435.6,585.6 436.8,582.1 437.3,579.9 437.8,572.8 437.0,562.1 436.0,557.6ZM329.3,644.1 330.8,644.1 332.1,645.1 332.7,646.1 333.7,650.1 327.4,650.1 327.9,646.1Z"/>
<path fill="#ffebd7" stroke="none" fill-rule="evenodd" d="M225.5,429.1 286.7,429.1 284.5,481.1 283.8,522.1 283.7,650.1 219.3,650.1 219.3,617.4 224.3,617.1 225.1,616.6 227.3,614.5 230.8,609.1 233.3,603.6 234.3,600.3 235.2,594.6 235.6,587.6 235.8,576.1 235.7,565.6 234.1,531.6 231.3,501.1 227.5,465.1ZM303.7,429.1 342.7,429.1 344.4,452.6 345.3,456.6 346.8,459.1 346.6,460.1 345.3,461.3 343.7,462.1 336.9,464.6 330.6,470.1 328.3,470.3 325.9,470.1 323.0,468.6 320.3,466.1 316.8,461.6 314.8,458.6 312.3,453.9 308.8,445.6ZM430.2,429.1 438.8,429.1 438.4,431.1 437.8,446.6 437.3,451.1 436.3,455.1 433.5,459.6 432.9,463.1 432.9,470.6 433.5,479.6 434.5,486.6 437.3,498.6 437.8,502.0 438.0,507.6 437.8,514.8 437.3,518.0 435.1,525.6 434.2,527.6 433.3,528.3 432.3,527.8 431.4,526.6 424.0,508.1 421.3,502.7 420.3,498.7 419.8,493.6 419.7,470.1 419.8,465.1 420.3,461.8 421.3,458.9 424.6,454.6 426.1,450.6 428.6,440.6ZM358.9,464.6 361.8,464.4 364.5,464.6 366.4,465.6 368.3,467.6 370.8,473.3 372.1,481.1 372.8,498.4 373.3,503.2 376.5,525.1 377.4,539.1 377.8,558.1 377.6,650.1 349.3,650.1 349.6,548.1 349.8,541.1 352.0,519.6 352.8,504.1 352.0,473.1 352.4,470.6 354.1,467.6 356.3,465.8ZM422.5,543.6 423.8,543.1 424.7,544.1 425.6,546.1 427.6,553.6 428.5,561.1 428.9,574.1 427.2,604.1 425.7,614.1 424.1,620.1 419.3,630.1 418.3,633.6 418.8,637.2 419.8,640.1 420.7,644.6 421.2,650.1 410.6,650.1 411.1,637.6 412.9,630.6 413.3,630.1 414.8,618.1 415.8,597.6 416.2,575.6 417.3,560.5 418.3,554.6 419.3,551.1 420.8,547.0ZM327.5,569.1 328.3,569.1 329.3,570.1 330.1,572.1 330.7,575.1 330.8,582.6 330.5,587.6 329.7,592.6 327.2,601.6 326.7,602.6 326.3,602.7 325.4,602.1 325.0,601.1 323.8,595.7 323.8,585.8 324.8,576.0 325.8,572.1ZM437.1,616.6 439.8,614.4 439.8,628.4 437.3,627.9 435.6,627.1 434.9,625.6 434.7,624.1 434.9,621.1 435.5,619.1Z"/>
<path fill="#ffcbb2" stroke="none" fill-rule="evenodd" d="M230.1,429.1 284.3,429.1 283.8,461.1 283.0,473.1 282.5,485.1 282.3,538.1 282.7,571.1 282.5,650.1 221.2,650.1 222.8,637.6 223.3,634.7 224.4,631.6 226.3,629.6 232.3,625.6 235.8,622.6 237.3,620.6 239.3,616.3 240.8,611.6 241.9,606.6 242.8,599.6 243.2,593.6 243.2,581.6 241.8,572.6 241.3,566.6 239.8,531.6 235.3,496.1 232.3,460.0ZM308.7,429.1 337.2,429.1 337.0,441.6 335.8,448.2 334.8,451.6 332.8,456.2 331.2,459.1 329.2,461.1 327.3,461.3 325.6,461.1 322.3,459.6 319.3,457.6 316.8,454.6 315.3,451.6 312.3,442.8ZM361.6,472.6 363.3,472.1 365.5,473.1 368.8,477.1 370.3,480.6 371.3,488.5 371.9,501.1 375.3,521.9 376.3,531.6 377.2,558.1 377.0,650.1 351.1,650.1 351.3,603.4 352.8,577.9 354.8,553.5 355.0,520.1 355.9,501.1 355.6,489.6 355.8,482.6 356.8,479.1 357.8,477.1 359.5,474.6ZM420.9,558.6 421.3,558.4 421.8,558.6 423.1,560.1 424.4,562.6 424.9,565.1 425.4,583.6 425.3,594.1 424.8,600.6 423.3,612.2 422.3,616.8 421.3,619.8 418.4,626.1 417.0,631.6 416.9,636.1 417.6,640.1 418.6,650.1 411.6,650.1 411.8,638.1 415.1,623.6 416.2,615.6 416.7,606.1 417.3,571.1 417.8,565.6 419.3,561.1Z"/>
<path fill="#ffa580" stroke="none" fill-rule="evenodd" d="M235.8,429.1 278.0,429.1 276.6,451.1 276.4,461.1 278.3,483.4 279.0,518.6 280.8,558.6 280.8,573.1 280.0,579.6 279.8,585.1 280.3,602.1 280.4,636.6 280.8,641.0 280.9,650.1 250.5,650.1 249.0,645.1 248.2,638.1 248.2,628.6 250.1,606.1 250.9,585.1 250.5,580.6 248.3,573.1 247.3,566.6 245.6,531.6 240.8,494.6 238.7,461.6ZM313.3,429.1 329.8,429.1 328.1,439.1 326.0,443.1 323.8,445.4 322.3,445.8 320.8,445.4 319.0,444.1 316.8,441.6 315.4,439.1 314.8,437.2ZM364.4,486.6 365.3,486.4 366.1,486.6 366.4,487.1 367.8,489.6 369.3,493.7 370.4,503.6 372.3,512.1 374.3,523.7 375.8,538.2 376.4,549.6 376.6,562.1 376.0,650.1 355.1,650.1 355.6,606.1 357.3,566.6 358.5,520.1 360.2,503.6 360.7,494.1 362.1,490.1ZM414.4,638.1 414.8,637.9 415.2,638.1 415.8,641.1 416.5,650.1 413.5,650.1 413.5,643.1Z"/>
<path fill="#ff7440" stroke="none" fill-rule="evenodd" d="M242.1,429.1 267.2,429.1 266.9,451.1 267.1,461.1 274.3,518.1 275.8,536.6 276.9,561.6 276.8,570.9 276.3,575.7 274.0,589.1 269.6,623.6 268.7,628.1 268.3,628.6 267.3,627.6 266.3,613.0 264.8,601.9 261.5,586.6 258.1,574.1 256.6,565.1 253.2,527.1 251.6,513.1 249.6,497.1 245.8,472.1 244.3,460.2ZM366.3,506.1 367.6,506.1 368.2,507.1 369.8,511.0 370.8,515.0 374.1,534.6 375.3,544.7 375.8,552.6 375.8,560.6 375.0,579.1 370.5,650.1 363.0,650.1 361.0,600.6 360.5,558.1 361.3,532.8 362.8,519.6 365.5,508.1ZM269.9,642.6 271.3,642.4 272.3,642.8 273.7,644.6 273.0,646.1 271.7,647.1 270.8,647.2 269.8,646.9 268.4,645.6 268.2,644.6 268.4,644.1Z"/>
<path fill="#ff501c" stroke="none" fill-rule="evenodd" d="M250.0,429.1 254.8,429.1 253.2,438.6 252.3,439.3 251.8,439.1 251.4,437.6ZM367.8,521.1 368.3,520.7 368.8,520.7 370.3,523.1 371.8,527.5 372.8,532.0 373.8,541.1 374.4,558.1 373.8,579.2 372.3,597.7 370.8,605.1 368.0,614.6 367.3,615.1 366.8,614.6 366.5,613.1 364.3,597.2 363.3,585.2 363.0,572.6 363.1,566.6 364.3,549.6 365.0,534.6 366.3,526.1ZM265.4,528.1 266.7,528.1 268.1,531.6 269.8,538.6 270.8,546.7 271.4,560.1 271.1,568.6 270.0,573.1 269.2,574.6 268.3,575.3 267.4,575.1 266.9,574.1 265.4,568.6 263.9,560.1 263.0,551.1 262.7,545.1 263.0,538.1 264.0,532.6Z"/>
<path fill="#e63604" stroke="none" fill-rule="evenodd" d="M368.9,534.6 369.3,534.1 370.1,534.6 371.8,543.6 372.3,548.1 372.6,562.6 372.3,573.6 371.8,578.0 370.3,585.8 369.5,589.1 369.1,590.1 368.8,590.2 367.9,589.6 367.5,588.6 366.3,583.9 365.3,575.1 365.3,570.1 365.8,555.9 366.8,545.1 367.3,541.1Z"/>
<path fill="#fff" d="M427.9,628.1 441.0,628.1 441.0,651.5 418.6,651.5 418.6,645.6 421.7,645.6 421.7,640.6 424.2,640.6 424.2,635.0 427.9,635.0Z"/>
<path fill="#fff" d="M218.5,645.2 221.7,645.2 221.7,651.5 218.5,651.5Z"/>
<path d="M58.50 297.20v6.3M58.50 76.05v-6.3M70.75 297.20v3.4M70.75 76.05v-3.4M83.00 297.20v3.4M83.00 76.05v-3.4M95.25 297.20v6.3M95.25 76.05v-6.3M107.50 297.20v3.4M107.50 76.05v-3.4M119.75 297.20v3.4M119.75 76.05v-3.4M132.00 297.20v6.3M132.00 76.05v-6.3M144.25 297.20v3.4M144.25 76.05v-3.4M156.50 297.20v3.4M156.50 76.05v-3.4M168.75 297.20v6.3M168.75 76.05v-6.3M181.00 297.20v3.4M181.00 76.05v-3.4M193.25 297.20v3.4M193.25 76.05v-3.4M205.50 297.20v6.3M205.50 76.05v-6.3M217.75 297.20v3.4M217.75 76.05v-3.4M230.00 297.20v3.4M230.00 76.05v-3.4M242.25 297.20v6.3M242.25 76.05v-6.3M254.50 297.20v3.4M254.50 76.05v-3.4M266.75 297.20v3.4M266.75 76.05v-3.4M279.00 297.20v6.3M279.00 76.05v-6.3M58.50 76.05h-6M58.50 108.27h-6M58.50 129.49h-6M58.50 151.98h-6M58.50 177.55h-6M58.50 195.70h-6M58.50 209.77h-6M58.50 221.27h-6M58.50 239.41h-6M58.50 253.48h-6M58.50 274.71h-6M58.50 286.95h-6M58.50 297.20h-6M279.00 114.43h6M279.00 154.28h6M279.00 194.05h6M279.00 232.56h6M279.00 267.18h6" stroke="#111" stroke-width="1.3" fill="none"/>
<rect x="58.50" y="76.05" width="220.50" height="221.15" fill="none" stroke="#111" stroke-width="1.4"/>
<text x="47.0" y="79.3" font-size="9.2" text-anchor="end" textLength="10.6" lengthAdjust="spacingAndGlyphs" fill="#000">30</text>
<text x="47.0" y="111.6" font-size="9.2" text-anchor="end" textLength="10.6" lengthAdjust="spacingAndGlyphs" fill="#000">50</text>
<text x="47.0" y="132.8" font-size="9.2" text-anchor="end" textLength="10.6" lengthAdjust="spacingAndGlyphs" fill="#000">70</text>
<text x="47.0" y="155.3" font-size="9.2" text-anchor="end" textLength="15.9" lengthAdjust="spacingAndGlyphs" fill="#000">100</text>
<text x="47.0" y="180.9" font-size="9.2" text-anchor="end" textLength="15.9" lengthAdjust="spacingAndGlyphs" fill="#000">150</text>
<text x="47.0" y="199.0" font-size="9.2" text-anchor="end" textLength="15.9" lengthAdjust="spacingAndGlyphs" fill="#000">200</text>
<text x="47.0" y="213.1" font-size="9.2" text-anchor="end" textLength="15.9" lengthAdjust="spacingAndGlyphs" fill="#000">250</text>
<text x="47.0" y="224.6" font-size="9.2" text-anchor="end" textLength="15.9" lengthAdjust="spacingAndGlyphs" fill="#000">300</text>
<text x="47.0" y="242.7" font-size="9.2" text-anchor="end" textLength="15.9" lengthAdjust="spacingAndGlyphs" fill="#000">400</text>
<text x="47.0" y="256.8" font-size="9.2" text-anchor="end" textLength="15.9" lengthAdjust="spacingAndGlyphs" fill="#000">500</text>
<text x="47.0" y="278.0" font-size="9.2" text-anchor="end" textLength="15.9" lengthAdjust="spacingAndGlyphs" fill="#000">700</text>
<text x="47.0" y="290.3" font-size="9.2" text-anchor="end" textLength="15.9" lengthAdjust="spacingAndGlyphs" fill="#000">850</text>
<text x="47.0" y="300.5" font-size="9.2" text-anchor="end" textLength="21.2" lengthAdjust="spacingAndGlyphs" fill="#000">1000</text>
<text x="290.5" y="117.7" font-size="9.2" textLength="10.6" lengthAdjust="spacingAndGlyphs" fill="#000">20</text>
<text x="290.5" y="157.6" font-size="9.2" textLength="10.6" lengthAdjust="spacingAndGlyphs" fill="#000">16</text>
<text x="290.5" y="197.3" font-size="9.2" textLength="10.6" lengthAdjust="spacingAndGlyphs" fill="#000">12</text>
<text x="290.5" y="235.9" font-size="9.2" textLength="5.3" lengthAdjust="spacingAndGlyphs" fill="#000">8</text>
<text x="290.5" y="270.5" font-size="9.2" textLength="5.3" lengthAdjust="spacingAndGlyphs" fill="#000">4</text>
<text x="58.5" y="315.4" font-size="9.2" text-anchor="middle" textLength="17.1" lengthAdjust="spacingAndGlyphs" fill="#000">90N</text>
<text x="95.2" y="315.4" font-size="9.2" text-anchor="middle" textLength="17.1" lengthAdjust="spacingAndGlyphs" fill="#000">60N</text>
<text x="132.0" y="315.4" font-size="9.2" text-anchor="middle" textLength="17.1" lengthAdjust="spacingAndGlyphs" fill="#000">30N</text>
<text x="168.8" y="315.4" font-size="9.2" text-anchor="middle" fill="#000">0</text>
<text x="205.5" y="315.4" font-size="9.2" text-anchor="middle" textLength="17.1" lengthAdjust="spacingAndGlyphs" fill="#000">30S</text>
<text x="242.2" y="315.4" font-size="9.2" text-anchor="middle" textLength="17.1" lengthAdjust="spacingAndGlyphs" fill="#000">60S</text>
<text x="279.0" y="315.4" font-size="9.2" text-anchor="middle" textLength="17.1" lengthAdjust="spacingAndGlyphs" fill="#000">90S</text>
<text x="17.1" y="186.6" font-size="13.8" text-anchor="middle" textLength="98.1" lengthAdjust="spacingAndGlyphs" transform="rotate(-90 17.1 186.6)" class="big" fill="#000">Pressure (mb)</text>
<text x="317.1" y="186.6" font-size="12.2" text-anchor="middle" textLength="81.9" lengthAdjust="spacingAndGlyphs" transform="rotate(-90 317.1 186.6)" class="big" fill="#000">Height (km)</text>
<path d="M379.70 297.20v6.3M379.70 76.05v-6.3M391.97 297.20v3.4M391.97 76.05v-3.4M404.23 297.20v3.4M404.23 76.05v-3.4M416.50 297.20v6.3M416.50 76.05v-6.3M428.77 297.20v3.4M428.77 76.05v-3.4M441.03 297.20v3.4M441.03 76.05v-3.4M453.30 297.20v6.3M453.30 76.05v-6.3M465.57 297.20v3.4M465.57 76.05v-3.4M477.83 297.20v3.4M477.83 76.05v-3.4M490.10 297.20v6.3M490.10 76.05v-6.3M502.37 297.20v3.4M502.37 76.05v-3.4M514.63 297.20v3.4M514.63 76.05v-3.4M526.90 297.20v6.3M526.90 76.05v-6.3M539.17 297.20v3.4M539.17 76.05v-3.4M551.43 297.20v3.4M551.43 76.05v-3.4M563.70 297.20v6.3M563.70 76.05v-6.3M575.97 297.20v3.4M575.97 76.05v-3.4M588.23 297.20v3.4M588.23 76.05v-3.4M600.50 297.20v6.3M600.50 76.05v-6.3M379.70 76.05h-6M379.70 108.27h-6M379.70 129.49h-6M379.70 151.98h-6M379.70 177.55h-6M379.70 195.70h-6M379.70 209.77h-6M379.70 221.27h-6M379.70 239.41h-6M379.70 253.48h-6M379.70 274.71h-6M379.70 286.95h-6M379.70 297.20h-6M600.50 114.43h6M600.50 154.28h6M600.50 194.05h6M600.50 232.56h6M600.50 267.18h6" stroke="#111" stroke-width="1.3" fill="none"/>
<rect x="379.70" y="76.05" width="220.80" height="221.15" fill="none" stroke="#111" stroke-width="1.4"/>
<text x="368.2" y="79.3" font-size="9.2" text-anchor="end" textLength="10.6" lengthAdjust="spacingAndGlyphs" fill="#000">30</text>
<text x="368.2" y="111.6" font-size="9.2" text-anchor="end" textLength="10.6" lengthAdjust="spacingAndGlyphs" fill="#000">50</text>
<text x="368.2" y="132.8" font-size="9.2" text-anchor="end" textLength="10.6" lengthAdjust="spacingAndGlyphs" fill="#000">70</text>
<text x="368.2" y="155.3" font-size="9.2" text-anchor="end" textLength="15.9" lengthAdjust="spacingAndGlyphs" fill="#000">100</text>
<text x="368.2" y="180.9" font-size="9.2" text-anchor="end" textLength="15.9" lengthAdjust="spacingAndGlyphs" fill="#000">150</text>
<text x="368.2" y="199.0" font-size="9.2" text-anchor="end" textLength="15.9" lengthAdjust="spacingAndGlyphs" fill="#000">200</text>
<text x="368.2" y="213.1" font-size="9.2" text-anchor="end" textLength="15.9" lengthAdjust="spacingAndGlyphs" fill="#000">250</text>
<text x="368.2" y="224.6" font-size="9.2" text-anchor="end" textLength="15.9" lengthAdjust="spacingAndGlyphs" fill="#000">300</text>
<text x="368.2" y="242.7" font-size="9.2" text-anchor="end" textLength="15.9" lengthAdjust="spacingAndGlyphs" fill="#000">400</text>
<text x="368.2" y="256.8" font-size="9.2" text-anchor="end" textLength="15.9" lengthAdjust="spacingAndGlyphs" fill="#000">500</text>
<text x="368.2" y="278.0" font-size="9.2" text-anchor="end" textLength="15.9" lengthAdjust="spacingAndGlyphs" fill="#000">700</text>
<text x="368.2" y="290.3" font-size="9.2" text-anchor="end" textLength="15.9" lengthAdjust="spacingAndGlyphs" fill="#000">850</text>
<text x="368.2" y="300.5" font-size="9.2" text-anchor="end" textLength="21.2" lengthAdjust="spacingAndGlyphs" fill="#000">1000</text>
<text x="612.0" y="117.7" font-size="9.2" textLength="10.6" lengthAdjust="spacingAndGlyphs" fill="#000">20</text>
<text x="612.0" y="157.6" font-size="9.2" textLength="10.6" lengthAdjust="spacingAndGlyphs" fill="#000">16</text>
<text x="612.0" y="197.3" font-size="9.2" textLength="10.6" lengthAdjust="spacingAndGlyphs" fill="#000">12</text>
<text x="612.0" y="235.9" font-size="9.2" textLength="5.3" lengthAdjust="spacingAndGlyphs" fill="#000">8</text>
<text x="612.0" y="270.5" font-size="9.2" textLength="5.3" lengthAdjust="spacingAndGlyphs" fill="#000">4</text>
<text x="379.7" y="315.4" font-size="9.2" text-anchor="middle" textLength="17.1" lengthAdjust="spacingAndGlyphs" fill="#000">90N</text>
<text x="416.5" y="315.4" font-size="9.2" text-anchor="middle" textLength="17.1" lengthAdjust="spacingAndGlyphs" fill="#000">60N</text>
<text x="453.3" y="315.4" font-size="9.2" text-anchor="middle" textLength="17.1" lengthAdjust="spacingAndGlyphs" fill="#000">30N</text>
<text x="490.1" y="315.4" font-size="9.2" text-anchor="middle" fill="#000">0</text>
<text x="526.9" y="315.4" font-size="9.2" text-anchor="middle" textLength="17.1" lengthAdjust="spacingAndGlyphs" fill="#000">30S</text>
<text x="563.7" y="315.4" font-size="9.2" text-anchor="middle" textLength="17.1" lengthAdjust="spacingAndGlyphs" fill="#000">60S</text>
<text x="600.5" y="315.4" font-size="9.2" text-anchor="middle" textLength="17.1" lengthAdjust="spacingAndGlyphs" fill="#000">90S</text>
<text x="338.3" y="186.6" font-size="13.8" text-anchor="middle" textLength="98.1" lengthAdjust="spacingAndGlyphs" transform="rotate(-90 338.3 186.6)" class="big" fill="#000">Pressure (mb)</text>
<text x="638.6" y="186.6" font-size="12.2" text-anchor="middle" textLength="81.9" lengthAdjust="spacingAndGlyphs" transform="rotate(-90 638.6 186.6)" class="big" fill="#000">Height (km)</text>
<path d="M219.30 650.30v6.3M219.30 429.10v-6.3M231.56 650.30v3.4M231.56 429.10v-3.4M243.81 650.30v3.4M243.81 429.10v-3.4M256.07 650.30v6.3M256.07 429.10v-6.3M268.32 650.30v3.4M268.32 429.10v-3.4M280.58 650.30v3.4M280.58 429.10v-3.4M292.83 650.30v6.3M292.83 429.10v-6.3M305.09 650.30v3.4M305.09 429.10v-3.4M317.34 650.30v3.4M317.34 429.10v-3.4M329.60 650.30v6.3M329.60 429.10v-6.3M341.86 650.30v3.4M341.86 429.10v-3.4M354.11 650.30v3.4M354.11 429.10v-3.4M366.37 650.30v6.3M366.37 429.10v-6.3M378.62 650.30v3.4M378.62 429.10v-3.4M390.88 650.30v3.4M390.88 429.10v-3.4M403.13 650.30v6.3M403.13 429.10v-6.3M415.39 650.30v3.4M415.39 429.10v-3.4M427.64 650.30v3.4M427.64 429.10v-3.4M439.90 650.30v6.3M439.90 429.10v-6.3M219.30 429.10h-6M219.30 461.32h-6M219.30 482.55h-6M219.30 505.05h-6M219.30 530.63h-6M219.30 548.77h-6M219.30 562.85h-6M219.30 574.35h-6M219.30 592.50h-6M219.30 606.58h-6M219.30 627.80h-6M219.30 640.05h-6M219.30 650.30h-6M439.90 467.49h6M439.90 507.35h6M439.90 547.12h6M439.90 585.65h6M439.90 620.28h6" stroke="#111" stroke-width="1.3" fill="none"/>
<rect x="219.30" y="429.10" width="220.60" height="221.20" fill="none" stroke="#111" stroke-width="1.4"/>
<text x="207.8" y="432.4" font-size="9.2" text-anchor="end" textLength="10.6" lengthAdjust="spacingAndGlyphs" fill="#000">30</text>
<text x="207.8" y="464.6" font-size="9.2" text-anchor="end" textLength="10.6" lengthAdjust="spacingAndGlyphs" fill="#000">50</text>
<text x="207.8" y="485.8" font-size="9.2" text-anchor="end" textLength="10.6" lengthAdjust="spacingAndGlyphs" fill="#000">70</text>
<text x="207.8" y="508.3" font-size="9.2" text-anchor="end" textLength="15.9" lengthAdjust="spacingAndGlyphs" fill="#000">100</text>
<text x="207.8" y="533.9" font-size="9.2" text-anchor="end" textLength="15.9" lengthAdjust="spacingAndGlyphs" fill="#000">150</text>
<text x="207.8" y="552.1" font-size="9.2" text-anchor="end" textLength="15.9" lengthAdjust="spacingAndGlyphs" fill="#000">200</text>
<text x="207.8" y="566.2" font-size="9.2" text-anchor="end" textLength="15.9" lengthAdjust="spacingAndGlyphs" fill="#000">250</text>
<text x="207.8" y="577.7" font-size="9.2" text-anchor="end" textLength="15.9" lengthAdjust="spacingAndGlyphs" fill="#000">300</text>
<text x="207.8" y="595.8" font-size="9.2" text-anchor="end" textLength="15.9" lengthAdjust="spacingAndGlyphs" fill="#000">400</text>
<text x="207.8" y="609.9" font-size="9.2" text-anchor="end" textLength="15.9" lengthAdjust="spacingAndGlyphs" fill="#000">500</text>
<text x="207.8" y="631.1" font-size="9.2" text-anchor="end" textLength="15.9" lengthAdjust="spacingAndGlyphs" fill="#000">700</text>
<text x="207.8" y="643.3" font-size="9.2" text-anchor="end" textLength="15.9" lengthAdjust="spacingAndGlyphs" fill="#000">850</text>
<text x="207.8" y="653.6" font-size="9.2" text-anchor="end" textLength="21.2" lengthAdjust="spacingAndGlyphs" fill="#000">1000</text>
<text x="451.4" y="470.8" font-size="9.2" textLength="10.6" lengthAdjust="spacingAndGlyphs" fill="#000">20</text>
<text x="451.4" y="510.7" font-size="9.2" textLength="10.6" lengthAdjust="spacingAndGlyphs" fill="#000">16</text>
<text x="451.4" y="550.4" font-size="9.2" textLength="10.6" lengthAdjust="spacingAndGlyphs" fill="#000">12</text>
<text x="451.4" y="588.9" font-size="9.2" textLength="5.3" lengthAdjust="spacingAndGlyphs" fill="#000">8</text>
<text x="451.4" y="623.6" font-size="9.2" textLength="5.3" lengthAdjust="spacingAndGlyphs" fill="#000">4</text>
<text x="219.3" y="668.5" font-size="9.2" text-anchor="middle" textLength="17.1" lengthAdjust="spacingAndGlyphs" fill="#000">90N</text>
<text x="256.1" y="668.5" font-size="9.2" text-anchor="middle" textLength="17.1" lengthAdjust="spacingAndGlyphs" fill="#000">60N</text>
<text x="292.8" y="668.5" font-size="9.2" text-anchor="middle" textLength="17.1" lengthAdjust="spacingAndGlyphs" fill="#000">30N</text>
<text x="329.6" y="668.5" font-size="9.2" text-anchor="middle" fill="#000">0</text>
<text x="366.4" y="668.5" font-size="9.2" text-anchor="middle" textLength="17.1" lengthAdjust="spacingAndGlyphs" fill="#000">30S</text>
<text x="403.1" y="668.5" font-size="9.2" text-anchor="middle" textLength="17.1" lengthAdjust="spacingAndGlyphs" fill="#000">60S</text>
<text x="439.9" y="668.5" font-size="9.2" text-anchor="middle" textLength="17.1" lengthAdjust="spacingAndGlyphs" fill="#000">90S</text>
<text x="177.9" y="539.7" font-size="13.8" text-anchor="middle" textLength="98.1" lengthAdjust="spacingAndGlyphs" transform="rotate(-90 177.9 539.7)" class="big" fill="#000">Pressure (mb)</text>
<text x="478.0" y="539.7" font-size="12.2" text-anchor="middle" textLength="81.9" lengthAdjust="spacingAndGlyphs" transform="rotate(-90 478.0 539.7)" class="big" fill="#000">Height (km)</text>
<text x="307.5" y="19.4" font-size="19.5" textLength="33.0" lengthAdjust="spacingAndGlyphs" class="big" fill="#000">DJF</text>
<text x="76.5" y="46.7" font-size="14" textLength="184.2" lengthAdjust="spacingAndGlyphs" class="big" fill="#000">NF60_f19_1011 (yrs 3−5)</text>
<text x="469.8" y="46.9" font-size="14" textLength="41.1" lengthAdjust="spacingAndGlyphs" class="big" fill="#000">ERA40</text>
<text x="240.2" y="399.3" font-size="14" textLength="178.3" lengthAdjust="spacingAndGlyphs" class="big" fill="#000">NF60_f19_1011 − ERA40</text>
<text x="57.7" y="68.6" font-size="11.7" textLength="66.4" lengthAdjust="spacingAndGlyphs" fill="#000">Zonal wind</text>
<text x="253.7" y="66.6" font-size="11.7" textLength="26.4" lengthAdjust="spacingAndGlyphs" fill="#000">m/s</text>
<text x="379.0" y="68.6" font-size="11.7" textLength="66.4" lengthAdjust="spacingAndGlyphs" fill="#000">zonal wind</text>
<text x="574.9" y="66.6" font-size="11.7" textLength="26.4" lengthAdjust="spacingAndGlyphs" fill="#000">m/s</text>
<text x="219.0" y="422.0" font-size="11.7" textLength="66.4" lengthAdjust="spacingAndGlyphs" fill="#000">zonal wind</text>
<text x="413.4" y="420.0" font-size="11.7" textLength="26.4" lengthAdjust="spacingAndGlyphs" fill="#000">m/s</text>
<rect x="61.50" y="337.4" width="13.39" height="19.8" fill="#000088"/>
<rect x="74.89" y="337.4" width="13.39" height="19.8" fill="#0019af"/>
<rect x="88.28" y="337.4" width="13.39" height="19.8" fill="#002ddc"/>
<rect x="101.66" y="337.4" width="13.39" height="19.8" fill="#1c4eff"/>
<rect x="115.05" y="337.4" width="13.39" height="19.8" fill="#417dff"/>
<rect x="128.44" y="337.4" width="13.39" height="19.8" fill="#82aaff"/>
<rect x="141.82" y="337.4" width="13.39" height="19.8" fill="#b4cdff"/>
<rect x="155.21" y="337.4" width="13.39" height="19.8" fill="#d7ebff"/>
<rect x="168.60" y="337.4" width="13.39" height="19.8" fill="#ffebd7"/>
<rect x="181.99" y="337.4" width="13.39" height="19.8" fill="#ffcbb2"/>
<rect x="195.38" y="337.4" width="13.39" height="19.8" fill="#ffa580"/>
<rect x="208.76" y="337.4" width="13.39" height="19.8" fill="#ff7440"/>
<rect x="222.15" y="337.4" width="13.39" height="19.8" fill="#ff501c"/>
<rect x="235.54" y="337.4" width="13.39" height="19.8" fill="#e63604"/>
<rect x="248.92" y="337.4" width="13.39" height="19.8" fill="#b92202"/>
<rect x="262.31" y="337.4" width="13.39" height="19.8" fill="#850000"/>
<path d="M74.89 337.4v19.8M88.28 337.4v19.8M101.66 337.4v19.8M115.05 337.4v19.8M128.44 337.4v19.8M141.82 337.4v19.8M155.21 337.4v19.8M168.60 337.4v19.8M181.99 337.4v19.8M195.38 337.4v19.8M208.76 337.4v19.8M222.15 337.4v19.8M235.54 337.4v19.8M248.92 337.4v19.8M262.31 337.4v19.8" stroke="#111" stroke-width="1"/>
<rect x="61.50" y="337.4" width="214.2" height="19.8" fill="none" stroke="#111" stroke-width="1.2"/>
<text x="74.9" y="369.9" font-size="8.9" text-anchor="middle" textLength="20.0" lengthAdjust="spacingAndGlyphs" fill="#000">−20</text>
<text x="101.7" y="369.9" font-size="8.9" text-anchor="middle" textLength="20.0" lengthAdjust="spacingAndGlyphs" fill="#000">−10</text>
<text x="128.4" y="369.9" font-size="8.9" text-anchor="middle" textLength="6.3" lengthAdjust="spacingAndGlyphs" fill="#000">0</text>
<text x="155.2" y="369.9" font-size="8.9" text-anchor="middle" textLength="12.6" lengthAdjust="spacingAndGlyphs" fill="#000">10</text>
<text x="182.0" y="369.9" font-size="8.9" text-anchor="middle" textLength="12.6" lengthAdjust="spacingAndGlyphs" fill="#000">20</text>
<text x="208.8" y="369.9" font-size="8.9" text-anchor="middle" textLength="12.6" lengthAdjust="spacingAndGlyphs" fill="#000">30</text>
<text x="235.5" y="369.9" font-size="8.9" text-anchor="middle" textLength="12.6" lengthAdjust="spacingAndGlyphs" fill="#000">50</text>
<text x="262.3" y="369.9" font-size="8.9" text-anchor="middle" textLength="12.6" lengthAdjust="spacingAndGlyphs" fill="#000">70</text>
<text x="83.5" y="326.4" font-size="10.6" textLength="32.9" lengthAdjust="spacingAndGlyphs" fill="#000">MIN =</text>
<text x="123.3" y="326.4" font-size="10.6" textLength="39.8" lengthAdjust="spacingAndGlyphs" fill="#000">−19.43</text>
<text x="175.0" y="326.4" font-size="10.6" textLength="34.7" lengthAdjust="spacingAndGlyphs" fill="#000">MAX =</text>
<text x="223.0" y="326.4" font-size="10.6" textLength="30.4" lengthAdjust="spacingAndGlyphs" fill="#000">38.48</text>
<rect x="382.80" y="337.4" width="13.39" height="19.8" fill="#000088"/>
<rect x="396.19" y="337.4" width="13.39" height="19.8" fill="#0019af"/>
<rect x="409.57" y="337.4" width="13.39" height="19.8" fill="#002ddc"/>
<rect x="422.96" y="337.4" width="13.39" height="19.8" fill="#1c4eff"/>
<rect x="436.35" y="337.4" width="13.39" height="19.8" fill="#417dff"/>
<rect x="449.74" y="337.4" width="13.39" height="19.8" fill="#82aaff"/>
<rect x="463.12" y="337.4" width="13.39" height="19.8" fill="#b4cdff"/>
<rect x="476.51" y="337.4" width="13.39" height="19.8" fill="#d7ebff"/>
<rect x="489.90" y="337.4" width="13.39" height="19.8" fill="#ffebd7"/>
<rect x="503.29" y="337.4" width="13.39" height="19.8" fill="#ffcbb2"/>
<rect x="516.67" y="337.4" width="13.39" height="19.8" fill="#ffa580"/>
<rect x="530.06" y="337.4" width="13.39" height="19.8" fill="#ff7440"/>
<rect x="543.45" y="337.4" width="13.39" height="19.8" fill="#ff501c"/>
<rect x="556.84" y="337.4" width="13.39" height="19.8" fill="#e63604"/>
<rect x="570.23" y="337.4" width="13.39" height="19.8" fill="#b92202"/>
<rect x="583.61" y="337.4" width="13.39" height="19.8" fill="#850000"/>
<path d="M396.19 337.4v19.8M409.57 337.4v19.8M422.96 337.4v19.8M436.35 337.4v19.8M449.74 337.4v19.8M463.12 337.4v19.8M476.51 337.4v19.8M489.90 337.4v19.8M503.29 337.4v19.8M516.67 337.4v19.8M530.06 337.4v19.8M543.45 337.4v19.8M556.84 337.4v19.8M570.23 337.4v19.8M583.61 337.4v19.8" stroke="#111" stroke-width="1"/>
<rect x="382.80" y="337.4" width="214.2" height="19.8" fill="none" stroke="#111" stroke-width="1.2"/>
<text x="396.2" y="369.9" font-size="8.9" text-anchor="middle" textLength="20.0" lengthAdjust="spacingAndGlyphs" fill="#000">−20</text>
<text x="423.0" y="369.9" font-size="8.9" text-anchor="middle" textLength="20.0" lengthAdjust="spacingAndGlyphs" fill="#000">−10</text>
<text x="449.7" y="369.9" font-size="8.9" text-anchor="middle" textLength="6.3" lengthAdjust="spacingAndGlyphs" fill="#000">0</text>
<text x="476.5" y="369.9" font-size="8.9" text-anchor="middle" textLength="12.6" lengthAdjust="spacingAndGlyphs" fill="#000">10</text>
<text x="503.3" y="369.9" font-size="8.9" text-anchor="middle" textLength="12.6" lengthAdjust="spacingAndGlyphs" fill="#000">20</text>
<text x="530.1" y="369.9" font-size="8.9" text-anchor="middle" textLength="12.6" lengthAdjust="spacingAndGlyphs" fill="#000">30</text>
<text x="556.8" y="369.9" font-size="8.9" text-anchor="middle" textLength="12.6" lengthAdjust="spacingAndGlyphs" fill="#000">50</text>
<text x="583.6" y="369.9" font-size="8.9" text-anchor="middle" textLength="12.6" lengthAdjust="spacingAndGlyphs" fill="#000">70</text>
<text x="404.8" y="326.4" font-size="10.6" textLength="32.9" lengthAdjust="spacingAndGlyphs" fill="#000">MIN =</text>
<text x="444.6" y="326.4" font-size="10.6" textLength="39.8" lengthAdjust="spacingAndGlyphs" fill="#000">−16.85</text>
<text x="496.3" y="326.4" font-size="10.6" textLength="34.7" lengthAdjust="spacingAndGlyphs" fill="#000">MAX =</text>
<text x="544.3" y="326.4" font-size="10.6" textLength="30.4" lengthAdjust="spacingAndGlyphs" fill="#000">42.65</text>
<rect x="527.3" y="469.90" width="30.2" height="11.15" fill="#850000"/>
<rect x="527.3" y="481.05" width="30.2" height="11.15" fill="#b92202"/>
<rect x="527.3" y="492.20" width="30.2" height="11.15" fill="#e63604"/>
<rect x="527.3" y="503.35" width="30.2" height="11.15" fill="#ff501c"/>
<rect x="527.3" y="514.50" width="30.2" height="11.15" fill="#ff7440"/>
<rect x="527.3" y="525.65" width="30.2" height="11.15" fill="#ffa580"/>
<rect x="527.3" y="536.80" width="30.2" height="11.15" fill="#ffcbb2"/>
<rect x="527.3" y="547.95" width="30.2" height="11.15" fill="#ffebd7"/>
<rect x="527.3" y="559.10" width="30.2" height="11.15" fill="#d7ebff"/>
<rect x="527.3" y="570.25" width="30.2" height="11.15" fill="#b4cdff"/>
<rect x="527.3" y="581.40" width="30.2" height="11.15" fill="#82aaff"/>
<rect x="527.3" y="592.55" width="30.2" height="11.15" fill="#417dff"/>
<rect x="527.3" y="603.70" width="30.2" height="11.15" fill="#1c4eff"/>
<rect x="527.3" y="614.85" width="30.2" height="11.15" fill="#002ddc"/>
<rect x="527.3" y="626.00" width="30.2" height="11.15" fill="#0019af"/>
<rect x="527.3" y="637.15" width="30.2" height="11.15" fill="#000088"/>
<path d="M527.3 481.05h30.2M527.3 492.20h30.2M527.3 503.35h30.2M527.3 514.50h30.2M527.3 525.65h30.2M527.3 536.80h30.2M527.3 547.95h30.2M527.3 559.10h30.2M527.3 570.25h30.2M527.3 581.40h30.2M527.3 592.55h30.2M527.3 603.70h30.2M527.3 614.85h30.2M527.3 626.00h30.2M527.3 637.15h30.2" stroke="#111" stroke-width="1"/>
<rect x="527.3" y="469.90" width="30.2" height="178.40" fill="none" stroke="#111" stroke-width="1.2"/>
<text x="571.0" y="484.2" font-size="8.9" text-anchor="middle" textLength="12.6" lengthAdjust="spacingAndGlyphs" fill="#000">18</text>
<text x="571.0" y="495.4" font-size="8.9" text-anchor="middle" textLength="12.6" lengthAdjust="spacingAndGlyphs" fill="#000">15</text>
<text x="571.0" y="506.5" font-size="8.9" text-anchor="middle" textLength="12.6" lengthAdjust="spacingAndGlyphs" fill="#000">12</text>
<text x="571.0" y="517.7" font-size="8.9" text-anchor="middle" textLength="6.3" lengthAdjust="spacingAndGlyphs" fill="#000">9</text>
<text x="571.0" y="528.9" font-size="8.9" text-anchor="middle" textLength="6.3" lengthAdjust="spacingAndGlyphs" fill="#000">6</text>
<text x="571.0" y="540.0" font-size="8.9" text-anchor="middle" textLength="6.3" lengthAdjust="spacingAndGlyphs" fill="#000">3</text>
<text x="571.0" y="551.1" font-size="8.9" text-anchor="middle" textLength="6.3" lengthAdjust="spacingAndGlyphs" fill="#000">1</text>
<text x="571.0" y="562.3" font-size="8.9" text-anchor="middle" textLength="6.3" lengthAdjust="spacingAndGlyphs" fill="#000">0</text>
<text x="571.0" y="573.5" font-size="8.9" text-anchor="middle" textLength="13.7" lengthAdjust="spacingAndGlyphs" fill="#000">−1</text>
<text x="571.0" y="584.6" font-size="8.9" text-anchor="middle" textLength="13.7" lengthAdjust="spacingAndGlyphs" fill="#000">−3</text>
<text x="571.0" y="595.8" font-size="8.9" text-anchor="middle" textLength="13.7" lengthAdjust="spacingAndGlyphs" fill="#000">−6</text>
<text x="571.0" y="606.9" font-size="8.9" text-anchor="middle" textLength="13.7" lengthAdjust="spacingAndGlyphs" fill="#000">−9</text>
<text x="571.0" y="618.0" font-size="8.9" text-anchor="middle" textLength="20.0" lengthAdjust="spacingAndGlyphs" fill="#000">−12</text>
<text x="571.0" y="629.2" font-size="8.9" text-anchor="middle" textLength="20.0" lengthAdjust="spacingAndGlyphs" fill="#000">−15</text>
<text x="571.0" y="640.4" font-size="8.9" text-anchor="middle" textLength="20.0" lengthAdjust="spacingAndGlyphs" fill="#000">−18</text>
<text x="468.9" y="452.0" font-size="11.0" textLength="32.5" lengthAdjust="spacingAndGlyphs" fill="#000">MIN =</text>
<text x="509.2" y="452.0" font-size="11.0" textLength="38.9" lengthAdjust="spacingAndGlyphs" fill="#000">−30.62</text>
<text x="560.5" y="452.0" font-size="11.0" textLength="33.7" lengthAdjust="spacingAndGlyphs" fill="#000">MAX =</text>
<text x="607.9" y="452.0" font-size="11.0" textLength="30.5" lengthAdjust="spacingAndGlyphs" fill="#000">14.96</text></svg>
</body></html>
